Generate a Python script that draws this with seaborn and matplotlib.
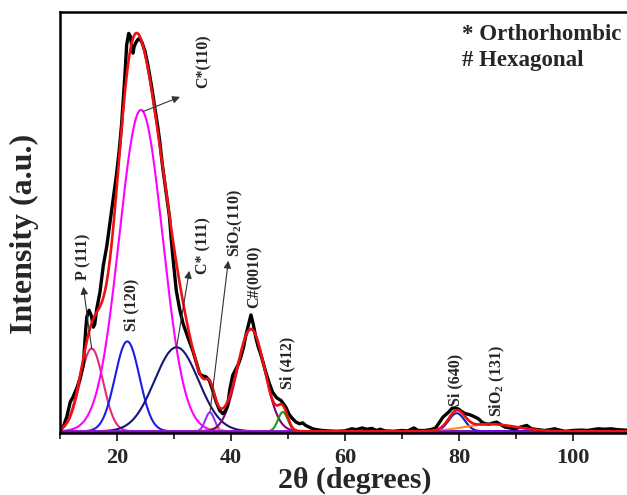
import numpy as np
import matplotlib
matplotlib.use('Agg')
import matplotlib.pyplot as plt
import seaborn as sns
from matplotlib.ticker import MultipleLocator

two_theta = [10.0, 10.6, 11.2, 11.8, 12.3, 13.0, 13.5, 14.1, 14.5, 14.7, 15.1, 15.5, 15.85,
             16.1, 16.45, 17.0, 17.6, 18.2, 18.7, 19.3, 19.9, 20.4, 20.8, 21.1, 21.4, 21.7,
             22.05, 22.35, 22.6, 22.8, 23.0, 23.3, 23.7, 24.0, 24.4, 24.9, 25.3, 25.7, 26.2,
             26.6, 27.1, 27.5, 28.0, 28.4, 28.8, 29.2, 29.5, 29.8, 30.4, 31.0, 31.6, 32.4,
             33.3, 34.0, 34.5, 35.0, 35.6, 36.2, 36.8, 37.4, 38.0, 38.55, 39.0, 39.4, 39.8,
             40.3, 40.9, 41.3, 41.8, 42.2, 42.6, 43.1, 43.5, 43.9, 44.4, 44.8, 45.3, 45.7,
             46.1, 46.7, 47.3, 48.0, 48.8, 49.6, 50.2, 50.8, 51.4, 52.0, 52.6, 53.1, 53.7,
             54.3, 55.0, 56.0, 57.0, 58.5, 60.0, 61.2, 62.0, 63.0, 63.8, 64.7, 65.5, 66.2,
             67.0, 68.5, 70.0, 71.0, 72.1, 72.8, 74.0, 75.0, 75.9, 76.5, 77.2, 78.2, 78.8,
             79.4, 80.0, 80.6, 81.1, 81.8, 82.5, 83.4, 84.0, 84.6, 85.3, 86.0, 86.6, 87.3,
             88.1, 89.0, 89.8, 90.8, 91.9, 92.7, 93.8, 95.0, 96.0, 96.8, 97.6, 98.6, 100.0,
             101.5, 102.5, 103.5, 104.4, 105.5, 106.7, 107.8, 109.1, 110.0]
intensity = [0.003, 0.012, 0.035, 0.07, 0.082, 0.105, 0.125, 0.16, 0.24, 0.272, 0.288, 0.275, 0.248,
             0.255, 0.292, 0.33, 0.395, 0.44, 0.49, 0.55, 0.61, 0.67, 0.73, 0.79, 0.85, 0.92,
             0.947, 0.94, 0.915, 0.9, 0.915, 0.925, 0.933, 0.935, 0.925, 0.905, 0.88, 0.85, 0.81,
             0.773, 0.73, 0.69, 0.63, 0.589, 0.55, 0.511, 0.46, 0.415, 0.335, 0.29, 0.256, 0.225,
             0.192, 0.16, 0.137, 0.132, 0.13, 0.121, 0.097, 0.07, 0.05, 0.042, 0.048, 0.061, 0.1,
             0.133, 0.149, 0.16, 0.18, 0.2, 0.228, 0.255, 0.277, 0.255, 0.22, 0.2, 0.18, 0.16,
             0.141, 0.115, 0.093, 0.08, 0.073, 0.058, 0.04, 0.03, 0.022, 0.018, 0.02, 0.014, 0.01,
             0.006, 0.004, 0.002, 0.001, 0.0, 0.001, 0.006, 0.004, 0.008, 0.005, 0.007, 0.002, 0.005,
             0.001, 0.0, 0.002, 0.001, 0.008, 0.002, 0.002, 0.004, 0.008, 0.02, 0.034, 0.046, 0.055,
             0.056, 0.052, 0.046, 0.042, 0.04, 0.036, 0.03, 0.022, 0.018, 0.017, 0.02, 0.022, 0.016,
             0.01, 0.008, 0.006, 0.01, 0.014, 0.006, 0.004, 0.002, 0.004, 0.006, 0.003, 0.0, 0.002,
             0.003, 0.002, 0.004, 0.006, 0.005, 0.006, 0.004, 0.003, 0.002]

# gaussian components of the fit (centre, height, sigma)
peak_names = ['P (111)', 'Si (120)', 'C*(110)', 'C* (111)', 'SiO2 (110)', 'SiO2 bg',
              'C#(0010)', 'Si (412)', 'Si (640)', 'SiO2 (131)']
peak_centers = [15.55, 21.8, 24.2, 30.45, 36.3, 37.0, 43.5, 49.1, 79.6, 85.5]
peak_heights = [0.197, 0.214, 0.765, 0.2, 0.045, 0.006, 0.243, 0.046, 0.043, 0.017]
peak_sigmas = [2.0, 2.15, 3.8, 3.85, 0.8, 1.1, 2.4, 0.85, 1.4, 4.5]
peak_colors = ['#e6287f', '#1c1ce6', '#ff00ff', '#16167a', '#9a30f0', '#ff8c1a',
               '#800080', '#1a9a1a', '#1e1eb0', '#ff8c1a']

baseline_x = [10, 110]
baseline_y = [0, 0]

sns.set_style('ticks')
plt.rcParams['font.family'] = ['Liberation Serif', 'DejaVu Serif']
plt.rcParams['font.weight'] = 'bold'
plt.rcParams['mathtext.fontset'] = 'custom'
plt.rcParams['mathtext.rm'] = 'Liberation Serif:bold'
plt.rcParams['mathtext.it'] = 'Liberation Serif:bold'
plt.rcParams['mathtext.bf'] = 'Liberation Serif:bold'

fig = plt.figure(figsize=(6.27, 4.95), dpi=100)
ax = fig.add_axes([60 / 627, 62 / 495, 570 / 627, 421 / 495])

x = np.linspace(10, 110, 2001)
fit = np.zeros_like(x)
for c, h, s, col in zip(peak_centers, peak_heights, peak_sigmas, peak_colors):
    comp = h * np.exp(-(x - c) ** 2 / (2 * s ** 2))
    fit += comp
    sns.lineplot(x=x, y=comp, color=col, lw=1.5, ax=ax)
# zero baseline drawn over the component tails
sns.lineplot(x=baseline_x, y=baseline_y, color='#8000ff', lw=1.8, ax=ax)

sns.lineplot(x=two_theta, y=intensity, color='black', lw=2.4, ax=ax)
sns.lineplot(x=x, y=fit, color='#f01010', lw=1.9, ax=ax)

ax.set_xlim(10, 110)
ax.set_ylim(-0.004, 0.998)
ax.set_yticks([])
ax.xaxis.set_major_locator(MultipleLocator(20))
ax.xaxis.set_minor_locator(MultipleLocator(10))
ax.tick_params(axis='x', which='major', direction='out', length=6, width=1.3, pad=5,
               labelsize=16)
ax.tick_params(axis='x', which='minor', direction='out', length=4.5, width=1.3)
for sp in ax.spines.values():
    sp.set_linewidth(1.8)
    sp.set_color('black')

ax.set_xlabel('2θ (degrees)', fontsize=21.5, fontweight='bold')
ax.xaxis.set_label_coords(0.517, -0.079)
ax.set_ylabel('Intensity (a.u.)', fontsize=23, fontweight='bold')
ax.yaxis.set_label_coords(-0.037, 0.473)

# peak labels and arrows
lab_kw = dict(rotation=90, fontsize=11.5, fontweight='bold', ha='center', va='center')
arrow_kw = dict(arrowstyle='-|>', color='#333333', lw=0.8, mutation_scale=11,
                shrinkA=0, shrinkB=0)
ax.annotate('', xy=(31.05, 0.796), xytext=(24.56, 0.761), arrowprops=arrow_kw)
ax.text(35.26, 0.88, 'C*(110)', **lab_kw)
ax.annotate('', xy=(14.09, 0.344), xytext=(15.56, 0.196), arrowprops=arrow_kw)
ax.text(14.04, 0.415, 'P (111)', **lab_kw)
ax.text(22.46, 0.301, 'Si (120)', **lab_kw)
ax.annotate('', xy=(32.68, 0.382), xytext=(30.47, 0.201), arrowprops=arrow_kw)
ax.text(35.09, 0.442, 'C* (111)', **lab_kw)
ax.annotate('', xy=(39.53, 0.406), xytext=(36.32, 0.046), arrowprops=arrow_kw)
ax.text(40.7, 0.496, 'SiO$_2$(110)', **lab_kw)
ax.text(44.21, 0.368, 'C#(0010)', **lab_kw)
ax.text(49.82, 0.163, 'Si (412)', **lab_kw)
ax.text(79.3, 0.123, 'Si (640)', **lab_kw)
ax.text(86.67, 0.12, 'SiO$_2$ (131)', **lab_kw)

ax.text(0.705, 0.933, '* Orthorhombic', transform=ax.transAxes, fontsize=16.5,
        fontweight='bold', va='baseline', ha='left')
ax.text(0.705, 0.872, '# Hexagonal', transform=ax.transAxes, fontsize=16.5,
        fontweight='bold', va='baseline', ha='left')

fig.savefig('out.png', dpi=100)
